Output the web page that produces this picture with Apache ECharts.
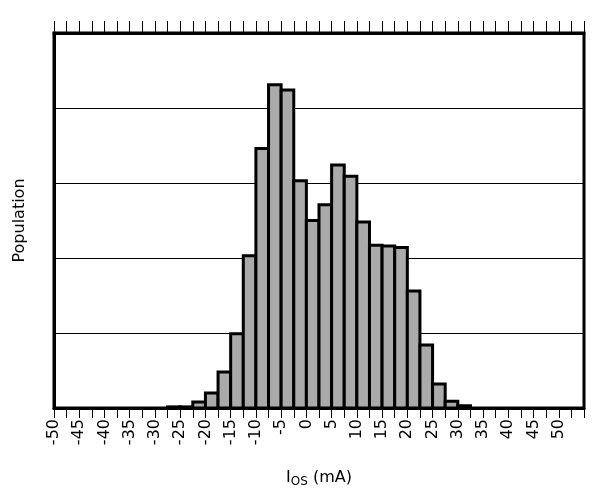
<!DOCTYPE html>
<html>
<head>
<meta charset="utf-8">
<script src="https://cdn.jsdelivr.net/npm/echarts@6/dist/echarts.min.js"></script>
<style>
  html, body { margin: 0; padding: 0; background: #fff; }
  #main { width: 614px; height: 491px; }
</style>
</head>
<body>
<div id="main"></div>
<script>
// histogram bins: lower edge of each bin (mA) and bar height (arbitrary units, grid = 100)
const binWidth = 2.5;
const binStarts = [-27.5, -25, -22.5, -20, -17.5, -15, -12.5, -10, -7.5, -5, -2.5, 0,
  2.5, 5, 7.5, 10, 12.5, 15, 17.5, 20, 22.5, 25, 27.5, 30];
const counts = [1.5, 1.5, 8, 20, 48, 99, 203, 346, 431, 424, 303, 250,
  271, 324, 309, 248, 217, 216, 214, 156, 84, 32, 9, 3];

// axis range and ticks
const xMin = -50;
const xMax = 55;
const xLabelMax = 50;
const yMax = 500;

let myChart = echarts.init(document.getElementById("main"));

const font = "DejaVu Sans";
let barData = binStarts.map((s, i) => [s, s + binWidth, counts[i]]);

let options = {
  animation: false,
  textStyle: { fontFamily: font },
  grid: {
    left: 54, right: 30, top: 33, bottom: 83,
    containLabel: false, outerBoundsMode: "none",
    show: true, borderColor: "#000", borderWidth: 3
  },
  xAxis: [
    {
      type: "value",
      min: xMin, max: xMax, interval: binWidth,
      position: "bottom",
      axisLine: { show: true, onZero: false, lineStyle: { color: "#000", width: 3 } },
      axisTick: { show: true, length: 10, lineStyle: { color: "#000", width: 1 } },
      splitLine: { show: false },
      axisLabel: {
        rotate: 90, margin: 11, color: "#000", fontSize: 16, fontFamily: font,
        formatter: (v) => (Math.abs(v % 5) < 1e-6 && v <= xLabelMax ? String(v) : "")
      },
      name: "{a|I}{b|OS}{a| (mA)}",
      nameLocation: "middle",
      nameGap: 60,
      nameTextStyle: {
        rich: {
          a: { fontSize: 16, fontFamily: font, color: "#000", lineHeight: 20 },
          b: { fontSize: 12, fontFamily: font, color: "#000", verticalAlign: "bottom", lineHeight: 14 }
        }
      }
    },
    {
      type: "value",
      min: xMin, max: xMax, interval: binWidth,
      position: "top",
      axisLine: { show: true, onZero: false, lineStyle: { color: "#000", width: 3 } },
      axisTick: { show: true, length: 12, lineStyle: { color: "#000", width: 1 } },
      axisLabel: { show: false },
      splitLine: { show: false }
    }
  ],
  yAxis: {
    type: "value",
    min: 0, max: yMax, interval: 100,
    axisLine: { show: true, onZero: false, lineStyle: { color: "#000", width: 3 } },
    axisTick: { show: false },
    axisLabel: { show: false },
    splitLine: { show: true, lineStyle: { color: "#000", width: 1 } },
    name: "Population",
    nameLocation: "middle",
    nameGap: 26,
    nameTextStyle: { fontSize: 16, fontFamily: font, color: "#000" }
  },
  series: [
    {
      type: "custom",
      xAxisIndex: 0,
      data: barData,
      renderItem: (params, api) => {
        let p0 = api.coord([api.value(0), 0]);
        let p1 = api.coord([api.value(1), api.value(2)]);
        return {
          type: "rect",
          shape: { x: p0[0], y: p1[1], width: p1[0] - p0[0], height: p0[1] - p1[1] },
          style: { fill: "#aaaaaa", stroke: "#000", lineWidth: 3 }
        };
      }
    }
  ]
};

myChart.setOption(options);
</script>
</body>
</html>
